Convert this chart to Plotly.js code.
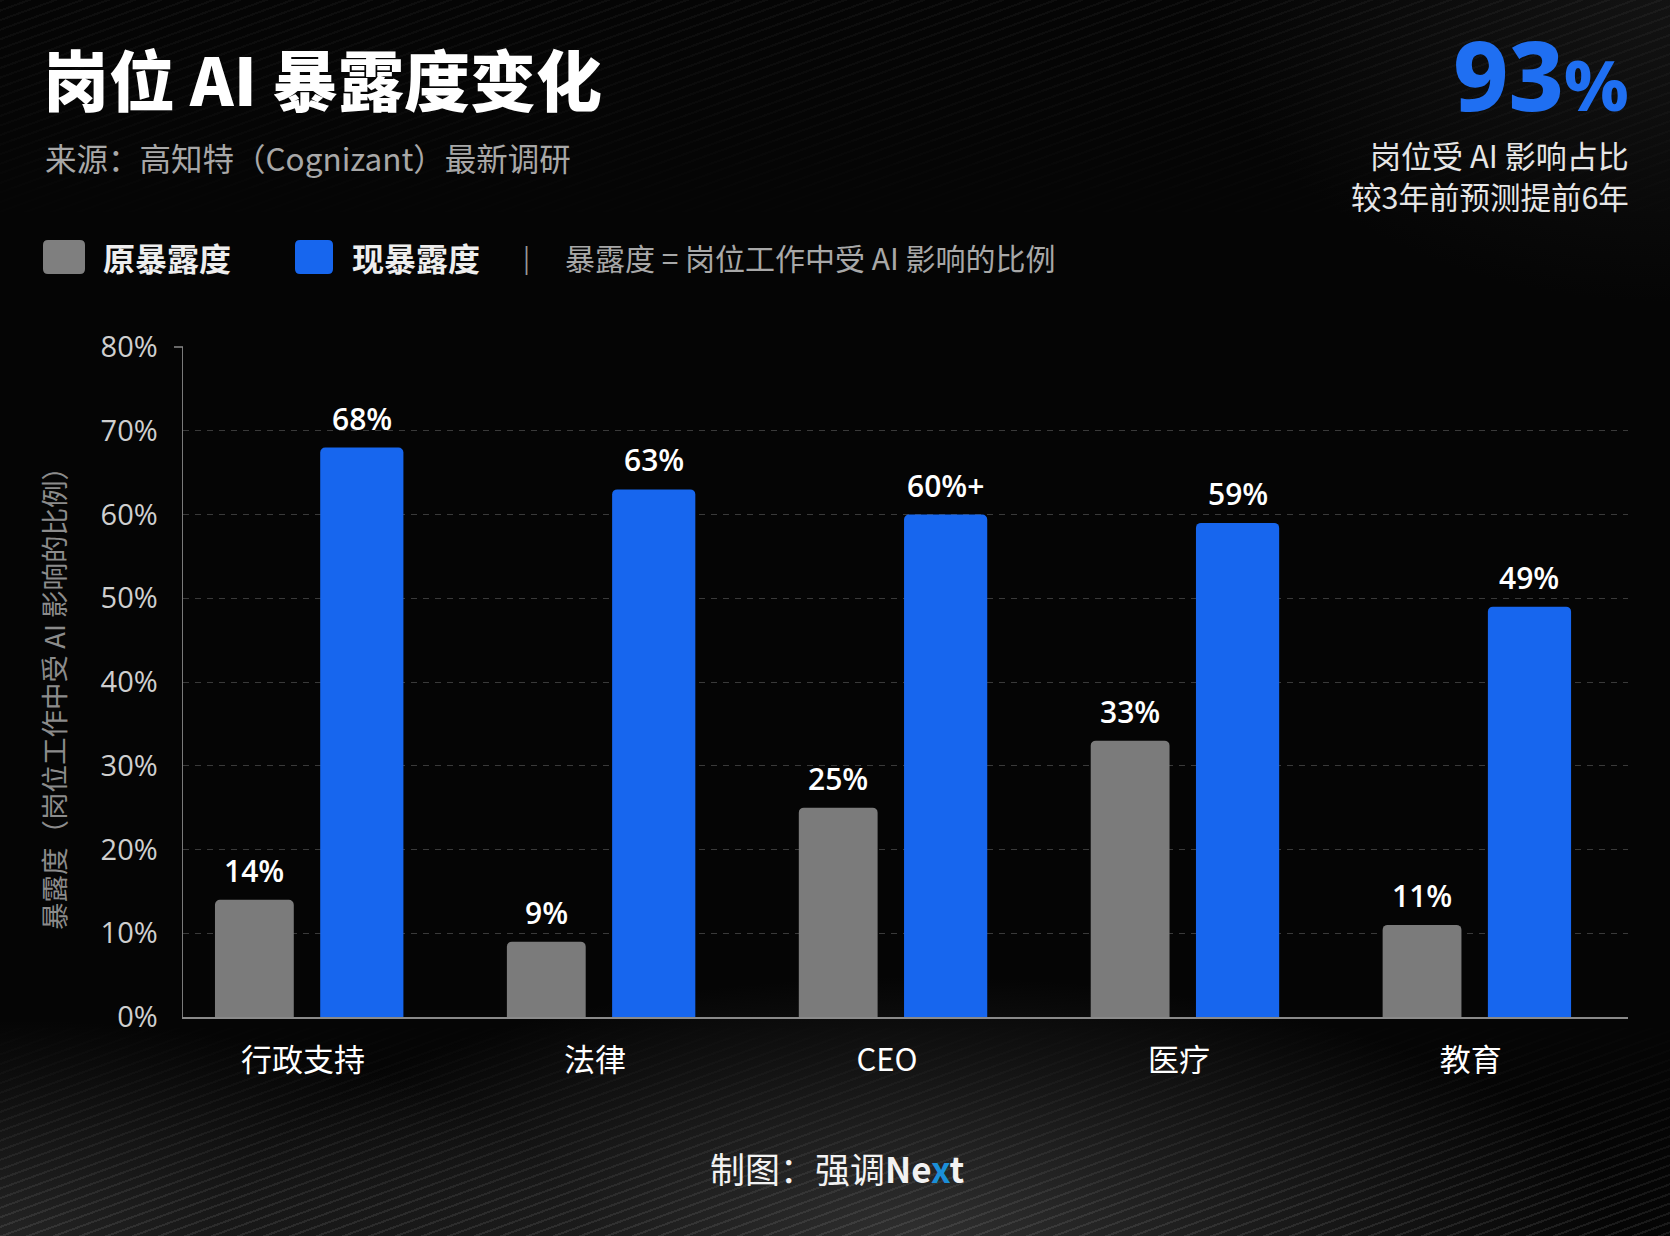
<!DOCTYPE html>
<html>
<head>
<meta charset="utf-8">
<script src="https://cdn.plot.ly/plotly-3.0.1.min.js"></script>
<style>
html,body{margin:0;padding:0;background:#050505;}
#wrap{position:relative;width:1670px;height:1236px;overflow:hidden;
 background:
  radial-gradient(ellipse 60% 30% at 55% 100%, rgba(110,110,110,0.4), rgba(0,0,0,0) 70%),
  radial-gradient(ellipse 40% 35% at 100% 0%, rgba(45,45,45,0.35), rgba(0,0,0,0) 70%),
  radial-gradient(ellipse 50% 25% at 0% 100%, rgba(85,85,85,0.38), rgba(0,0,0,0) 70%),
  #050505;}
#stripes{position:absolute;left:0;top:0;width:1670px;height:1236px;
 background:repeating-linear-gradient(160deg, rgba(255,255,255,0.09) 0px, rgba(255,255,255,0.09) 2px, rgba(0,0,0,0) 2px, rgba(0,0,0,0) 9px);
 -webkit-mask-image:linear-gradient(to bottom, rgba(0,0,0,0.45) 0%, rgba(0,0,0,0) 20%, rgba(0,0,0,0) 82%, rgba(0,0,0,1) 100%);
 mask-image:linear-gradient(to bottom, rgba(0,0,0,0.45) 0%, rgba(0,0,0,0) 20%, rgba(0,0,0,0) 82%, rgba(0,0,0,1) 100%);}
#chart{position:absolute;left:0;top:0;width:1670px;height:1236px;}
</style>
</head>
<body>
<div id="wrap"><div id="stripes"></div><div id="chart"></div></div>
<script>
// ---- data ----
const categories = ["行政支持", "法律", "CEO", "医疗", "教育"];
const beforeValues = [14, 9, 25, 33, 11];
const nowValues = [68, 63, 60, 59, 49];
const beforeLabels = ["14%", "9%", "25%", "33%", "11%"];
const nowLabels = ["68%", "63%", "60%+", "59%", "49%"];
const yTickVals = [0, 10, 20, 30, 40, 50, 60, 70, 80];
const yTickText = ["0%", "10%", "20%", "30%", "40%", "50%", "60%", "70%", "80%"];
const seriesNames = ["原暴露度", "现暴露度"];

// ---- layout helpers ----
const W = 1670, H = 1236;
const M = {l: 183, r: 42, t: 347, b: 219};
const PW = W - M.l - M.r, PH = H - M.t - M.b;
const px = x => (x - M.l) / PW;
const py = y => (H - M.b - y) / PH;
function roundRect(x0, y0, x1, y1, r) {
  const X = v => px(v), Y = v => py(v);
  return `M${X(x0 + r)},${Y(y0)} L${X(x1 - r)},${Y(y0)} Q${X(x1)},${Y(y0)} ${X(x1)},${Y(y0 + r)} ` +
         `L${X(x1)},${Y(y1 - r)} Q${X(x1)},${Y(y1)} ${X(x1 - r)},${Y(y1)} L${X(x0 + r)},${Y(y1)} ` +
         `Q${X(x0)},${Y(y1)} ${X(x0)},${Y(y1 - r)} L${X(x0)},${Y(y0 + r)} Q${X(x0)},${Y(y0)} ${X(x0 + r)},${Y(y0)} Z`;
}

const FONT = '"Noto Sans CJK SC", "Noto Sans", sans-serif';
const NUMFONT = '"Open Sans", "Noto Sans CJK SC", sans-serif';
const GRAY = "#7b7b7b", BLUE = "#1766ee";
const gOff = -0.302, gW = 0.27, bOff = 0.0585, bW = 0.285;

const traces = [
  {type: "bar", name: seriesNames[0], x: categories, y: beforeValues,
   offset: gOff, width: gW, marker: {color: GRAY, cornerradius: 5, line: {width: 0}},
   hoverinfo: "x+y", showlegend: false},
  {type: "bar", name: seriesNames[1], x: categories, y: nowValues,
   offset: bOff, width: bW, marker: {color: BLUE, cornerradius: 5, line: {width: 0}},
   hoverinfo: "x+y", showlegend: false}
];

const annotations = [];
categories.forEach((c, i) => {
  annotations.push({x: i + gOff + gW / 2, y: beforeValues[i], xref: "x", yref: "y",
    text: beforeLabels[i], showarrow: false, yanchor: "bottom", yshift: 7,
    font: {family: NUMFONT, size: 30, color: "#ffffff", weight: 600}});
  annotations.push({x: i + bOff + bW / 2, y: nowValues[i], xref: "x", yref: "y",
    text: nowLabels[i], showarrow: false, yanchor: "bottom", yshift: 7,
    font: {family: NUMFONT, size: 30, color: "#ffffff", weight: 600}});
});

// subtitle
annotations.push({xref: "paper", yref: "paper", x: px(43), y: py(157), xanchor: "left", yanchor: "middle",
  text: "来源：高知特（Cognizant）最新调研", showarrow: false,
  font: {family: FONT, size: 31.5, color: "#a8a8a8"}});
// big number
annotations.push({xref: "paper", yref: "paper", x: px(1631), y: py(74), xanchor: "right", yanchor: "middle",
  text: "93<span style=\"font-size:70px\">%</span>", showarrow: false,
  font: {family: '"Noto Sans", "Open Sans", sans-serif', size: 96, color: "#1f6ff2", weight: 800}});
annotations.push({xref: "paper", yref: "paper", x: px(1631), y: py(155), xanchor: "right", yanchor: "middle",
  text: "岗位受 AI 影响占比", showarrow: false, font: {family: FONT, size: 31, color: "#e6e6e6"}});
annotations.push({xref: "paper", yref: "paper", x: px(1631), y: py(196), xanchor: "right", yanchor: "middle",
  text: "较3年前预测提前6年", showarrow: false, font: {family: FONT, size: 30.5, color: "#e6e6e6"}});
// legend texts
annotations.push({xref: "paper", yref: "paper", x: px(101), y: py(257), xanchor: "left", yanchor: "middle",
  text: seriesNames[0], showarrow: false, font: {family: FONT, size: 32, color: "#eeeeee", weight: 700}});
annotations.push({xref: "paper", yref: "paper", x: px(350), y: py(257), xanchor: "left", yanchor: "middle",
  text: seriesNames[1], showarrow: false, font: {family: FONT, size: 32, color: "#eeeeee", weight: 700}});
annotations.push({xref: "paper", yref: "paper", x: px(526), y: py(257), xanchor: "center", yanchor: "middle",
  text: "|", showarrow: false, font: {family: FONT, size: 26, color: "#9a9a9a"}});
annotations.push({xref: "paper", yref: "paper", x: px(563), y: py(257), xanchor: "left", yanchor: "middle",
  text: "暴露度 = 岗位工作中受 AI 影响的比例", showarrow: false, font: {family: FONT, size: 30, color: "#a8a8a8"}});
// y axis title
annotations.push({xref: "paper", yref: "paper", x: px(53), y: py(692), xanchor: "center", yanchor: "middle",
  text: "暴露度（岗位工作中受 AI 影响的比例）", textangle: -90, showarrow: false,
  font: {family: FONT, size: 27.5, color: "#8c8c8c"}});
// footer
annotations.push({xref: "paper", yref: "paper", x: px(837), y: py(1167), xanchor: "center", yanchor: "middle",
  text: "制图：强调<b>Ne<span style=\"color:#1b8fd8\">x</span>t</b>", showarrow: false,
  font: {family: FONT, size: 35, color: "#f2f2f2"}});

const shapes = [
  {type: "path", xref: "paper", yref: "paper", path: roundRect(43, 240, 85, 274, 5),
   fillcolor: "#7f7f7f", line: {width: 0}},
  {type: "path", xref: "paper", yref: "paper", path: roundRect(295, 240, 333, 274, 5),
   fillcolor: "#1766ee", line: {width: 0}},
  {type: "line", xref: "paper", yref: "paper", x0: px(174), x1: px(183), y0: 1, y1: 1,
   line: {color: "#8a8a8a", width: 1.5}}
];

const layout = {
  width: W, height: H,
  margin: M,
  paper_bgcolor: "rgba(0,0,0,0)", plot_bgcolor: "rgba(0,0,0,0)",
  barmode: "overlay",
  title: {text: "岗位 AI 暴露度变化", xref: "container", yref: "container",
    x: 43 / W, xanchor: "left", y: 1 - 83 / H, yanchor: "middle",
    font: {family: FONT, size: 66, color: "#ffffff", weight: 900}},
  xaxis: {type: "category", range: [-0.4115, 4.5385], showgrid: false, zeroline: false,
    showline: true, linecolor: "#8a8a8a", linewidth: 2, ticks: "",
    tickfont: {family: FONT, size: 31, color: "#ffffff"}, ticklabelstandoff: 15,
    fixedrange: true},
  yaxis: {range: [0, 80], tickvals: yTickVals, ticktext: yTickText,
    showgrid: true, gridcolor: "#3a3a3a", griddash: "6px,6px", gridwidth: 1,
    zeroline: false, showline: true, linecolor: "#7a7a7a", linewidth: 1.5, ticks: "",
    tickfont: {family: NUMFONT, size: 29, color: "#cfcfcf"}, ticklabelstandoff: 18,
    fixedrange: true},
  annotations: annotations,
  shapes: shapes,
  showlegend: false,
  font: {family: FONT}
};

Plotly.newPlot("chart", traces, layout, {displayModeBar: false, staticPlot: true});
</script>
</body>
</html>
